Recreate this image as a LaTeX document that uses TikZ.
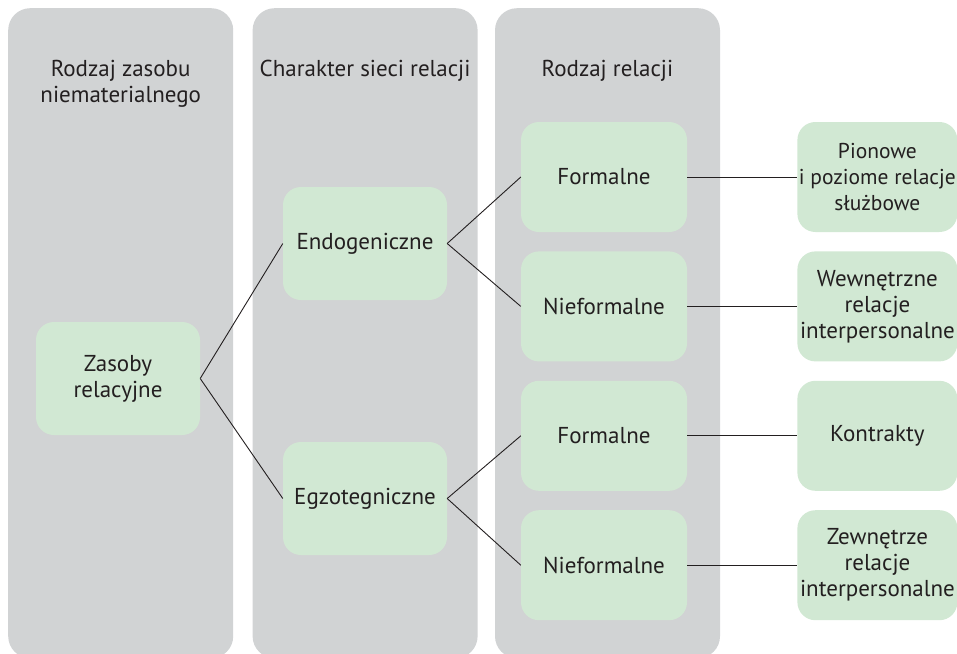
\documentclass[tikz,border=0pt]{standalone}
\usepackage{fontspec}
\setmainfont{PT Sans}
\usepackage{tikz}
\usetikzlibrary{positioning}

\definecolor{colgray}{RGB}{209,211,212}
\definecolor{boxgreen}{RGB}{209,232,211}
\definecolor{txt}{RGB}{35,31,32}

\begin{document}
\begin{tikzpicture}[
  x=1pt, y=-1pt,
  column/.style={rectangle, rounded corners=22pt, fill=colgray, minimum width=225pt, minimum height=650pt, inner sep=0pt, anchor=north west},
  head/.style={anchor=north, align=center, inner sep=0pt, text=txt, font=\fontsize{23}{26}\selectfont},
  box/.style={rectangle, rounded corners=18pt, fill=boxgreen, minimum width=164pt, minimum height=113pt, align=center, inner sep=0pt, text=txt, font=\fontsize{23}{26}\selectfont},
  relbox/.style={box, minimum width=166pt, minimum height=110pt},
  descbox/.style={box, minimum width=160pt, minimum height=110pt},
  link/.style={draw=txt, line width=0.9pt},
  node distance=19pt and 110pt
]
\useasboundingbox (0,0) rectangle (957,653);

% kolumny
\node[column] (col1) at (8,8) {};
\node[column, right=19pt of col1] (col2) {};
\node[column, right=17pt of col2] (col3) {};

\node[head] (h1) at (col1.north |- 0,60) {Rodzaj zasobu\\niematerialnego};
\node[head] (h2) at (col2.north |- 0,60) {Charakter sieci relacji};
\node[head] (h3) at (col3.north |- 0,60) {Rodzaj relacji};

% drzewo
\node[box] (zasoby) at (118,378.5) {Zasoby\\relacyjne};
\node[box] (endo) at (365,243.5) {Endogeniczne};
\node[box] (egzo) at (365,498.5) {Egzotegniczne};

\node[relbox] (form1) at (604,177) {Formalne};
\node[relbox, below=of form1] (nief1) {Nieformalne};
\node[relbox, below=of nief1] (form2) {Formalne};
\node[relbox, below=of form2] (nief2) {Nieformalne};

\node[descbox, right=of form1, font=\fontsize{21.5}{26}\selectfont] (sluzb) {Pionowe\\i poziome relacje\\służbowe};
\node[descbox, right=of nief1] (wewn) {Wewnętrzne\\relacje\\interpersonalne};
\node[descbox, right=of form2] (kontr) {Kontrakty};
\node[descbox, right=of nief2] (zewn) {Zewnętrze\\relacje\\interpersonalne};

\draw[link] (zasoby.east) -- (endo.west);
\draw[link] (zasoby.east) -- (egzo.west);
\draw[link] (endo.east) -- (form1.west);
\draw[link] (endo.east) -- (nief1.west);
\draw[link] (egzo.east) -- (form2.west);
\draw[link] (egzo.east) -- (nief2.west);
\draw[link] (form1) -- (sluzb);
\draw[link] (nief1) -- (wewn);
\draw[link] (form2) -- (kontr);
\draw[link] (nief2) -- (zewn);
\end{tikzpicture}
\end{document}
